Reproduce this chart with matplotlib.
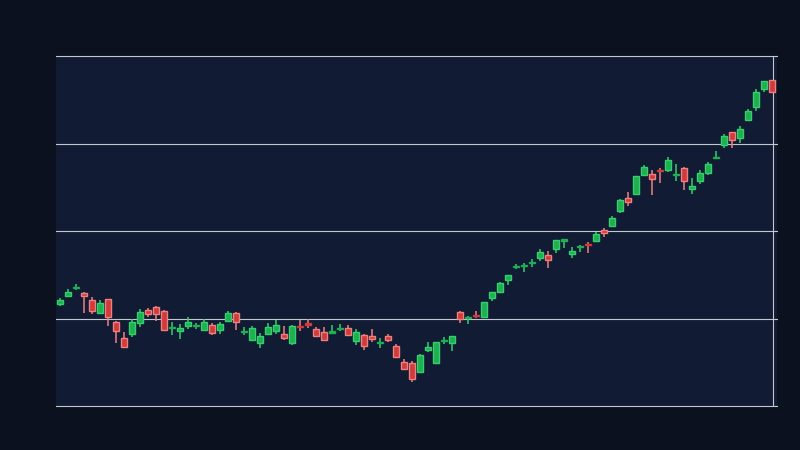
import numpy as np
import matplotlib
matplotlib.use('Agg')
import matplotlib.pyplot as plt

# candle values (arbitrary price units, axis 0-100)
opens = [29.2, 31.5, 33.6, 32.2, 30.2, 26.5, 30.5, 24.0, 19.3, 20.7,
         23.6, 27.4, 28.2, 27.1, 22.2, 21.3, 22.8, 22.8, 21.8, 23.1,
         21.8, 24.4, 26.5, 21.1, 18.9, 18.1, 20.7, 21.4, 20.6, 18.1,
         22.9, 23.6, 22.0, 21.1, 20.9, 21.9, 22.2, 18.7, 20.3, 20.0,
         17.9, 20.0, 17.1, 12.6, 12.2, 9.8, 16.1, 12.4, 18.5, 18.1,
         26.8, 25.1, 26.0, 25.5, 30.9, 32.7, 36.1, 39.6, 39.9, 40.8,
         42.4, 43.1, 44.9, 47.1, 43.5, 45.3, 46.3, 47.2, 50.2, 51.5,
         55.8, 59.3, 60.7, 66.1, 66.2, 67.4, 67.5, 65.9, 67.9, 62.1,
         64.4, 66.5, 70.8, 74.7, 78.2, 76.7, 81.8, 85.5, 90.7, 93.1]
highs = [30.9, 33.3, 34.9, 32.6, 31.1, 30.3, 30.5, 24.4, 21.1, 24.8,
         27.7, 27.9, 28.6, 27.4, 24.0, 23.3, 25.4, 23.8, 24.9, 23.6,
         24.0, 27.1, 26.8, 22.5, 22.9, 20.8, 23.8, 24.6, 22.9, 23.1,
         24.6, 24.9, 22.5, 22.5, 23.1, 23.4, 23.1, 22.0, 20.6, 22.0,
         19.3, 20.6, 17.7, 13.3, 12.9, 14.9, 18.3, 18.4, 19.7, 19.9,
         27.1, 25.8, 27.1, 29.6, 32.5, 35.4, 37.3, 40.6, 40.8, 42.0,
         44.9, 44.3, 47.3, 47.6, 45.4, 46.1, 46.9, 49.8, 50.8, 54.3,
         59.1, 61.1, 65.7, 68.8, 67.4, 68.1, 71.1, 69.1, 68.3, 65.1,
         67.3, 69.7, 72.9, 77.7, 78.2, 80.0, 84.9, 90.6, 92.8, 93.1]
lows = [28.7, 31.2, 33.2, 26.7, 26.4, 26.5, 22.9, 18.1, 16.9, 19.8,
        22.7, 25.4, 24.4, 21.4, 20.4, 19.2, 22.1, 22.1, 21.8, 20.4,
        20.7, 24.4, 21.8, 20.4, 18.7, 16.7, 20.4, 20.6, 18.9, 17.5,
        21.5, 22.4, 20.1, 18.6, 20.9, 21.4, 20.4, 17.5, 16.0, 18.4,
        16.6, 18.4, 13.9, 10.3, 6.9, 9.8, 15.5, 12.4, 17.8, 15.7,
        23.7, 23.4, 25.2, 25.5, 30.1, 32.4, 34.7, 39.1, 38.4, 39.8,
        41.5, 39.5, 43.8, 45.2, 42.4, 44.1, 43.8, 46.9, 48.4, 51.2,
        55.2, 57.2, 60.4, 65.8, 60.4, 63.8, 66.9, 64.4, 61.8, 60.7,
        63.5, 66.1, 70.6, 73.8, 73.8, 75.1, 81.8, 84.4, 89.8, 89.6]
closes = [30.3, 32.6, 34.0, 31.3, 27.2, 29.4, 25.3, 21.3, 16.9, 24.0,
          26.9, 26.2, 26.2, 21.8, 22.6, 22.3, 24.0, 23.1, 24.0, 20.9,
          23.4, 26.5, 24.1, 21.4, 22.2, 20.0, 22.5, 23.1, 19.5, 22.9,
          22.5, 23.2, 20.1, 18.9, 21.3, 22.3, 20.4, 21.1, 17.2, 19.2,
          18.3, 18.9, 13.9, 10.7, 7.8, 14.6, 16.9, 18.2, 18.9, 19.9,
          25.0, 25.4, 25.6, 29.6, 32.5, 35.1, 37.3, 40.0, 40.3, 41.1,
          43.9, 41.8, 47.3, 47.6, 44.2, 45.7, 45.9, 49.1, 49.3, 53.6,
          58.8, 58.4, 65.7, 68.2, 64.9, 67.1, 70.3, 66.3, 64.2, 62.9,
          66.6, 69.1, 71.1, 77.1, 76.1, 79.1, 84.2, 89.6, 92.8, 89.6]
grid_levels = [0, 25, 50, 75, 100]

BG = '#0b111e'
PANEL = '#111b33'
GRID = '#c3c7cf'
UP_FILL, UP_EDGE = '#1fae50', '#35cf6d'
DN_FILL, DN_EDGE = '#cf3b3b', '#f08080'

o = np.array(opens)
h = np.array(highs)
l = np.array(lows)
c = np.array(closes)
x = np.arange(len(o))
up = c >= o

fig = plt.figure(figsize=(8, 4.5), dpi=100, facecolor=BG)
ax = fig.add_axes([56/800, 44/450, 721/800, 350/450])
ax.set_facecolor(PANEL)

# wicks
wick_col = np.where(up, UP_EDGE, DN_EDGE)
ax.vlines(x, l, h, colors=wick_col, linewidth=1.1, zorder=3)

# bodies, dojis drawn flat in the fill colour
bottoms = np.minimum(o, c)
heights = np.maximum(np.abs(c - o), 0.3)
fills = np.where(up, UP_FILL, DN_FILL)
edges = [(uf if hh < 0.6 else ue) for uf, ue, hh in
         zip(fills, np.where(up, UP_EDGE, DN_EDGE), np.abs(c - o))]
ax.bar(x, heights, bottom=bottoms, width=0.68, color=fills,
       edgecolor=edges, linewidth=1.0, zorder=4)

ax.set_xlim(-0.5, len(o) - 0.375)
ax.set_ylim(grid_levels[0], grid_levels[-1])
for g in grid_levels:
    ax.axhline(g, color=GRID, linewidth=0.8, zorder=2, clip_on=False)
ax.axvline(len(o) - 0.875, color=GRID, linewidth=0.8, zorder=2)

for s in ax.spines.values():
    s.set_visible(False)
ax.set_xticks([])
ax.set_yticks([])

fig.savefig('out.png', dpi=100, facecolor=BG)
